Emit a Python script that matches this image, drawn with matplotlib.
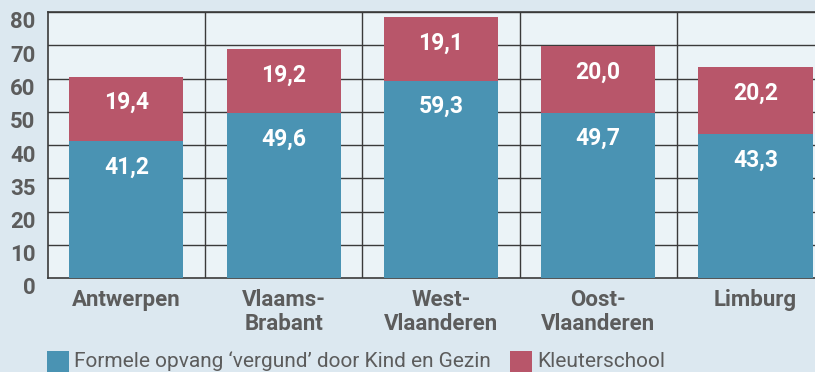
import matplotlib
matplotlib.use("Agg")
import matplotlib.pyplot as plt
import matplotlib.transforms as mtransforms
from matplotlib.patches import Rectangle

provinces = ["Antwerpen", "Vlaams-\nBrabant", "West-\nVlaanderen", "Oost-\nVlaanderen", "Limburg"]
formele_opvang = [41.2, 49.6, 59.3, 49.7, 43.3]
kleuterschool = [19.4, 19.2, 19.1, 20.0, 20.2]
y_ticks = [0, 10, 20, 30, 40, 50, 60, 70, 80]
y_tick_labels = ["0", "10", "20", "35", "40", "50", "60", "70", "80"]
legend_labels = ["Formele opvang \u2018vergund\u2019 door Kind en Gezin", "Kleuterschool"]

BLUE = "#4a93b3"
RED = "#b8566a"
FIG_BG = "#dce8f0"
AX_BG = "#ebf3f7"
GRID = "#3a3a3a"
TXT = "#5c5c5c"
BOLD_FONT = ["Roboto", "DejaVu Sans"]
LEG_FONT = ["Roboto", "DejaVu Sans"]

W, H = 815, 372
fig = plt.figure(figsize=(W / 100, H / 100), dpi=100, facecolor=FIG_BG)
ax = fig.add_axes([48 / W, 1 - 278 / H, 1 - 48 / W + 0.01, (278 - 12) / H])
ax.set_facecolor(AX_BG)

x = list(range(len(provinces)))
bar_w = 0.726
ax.bar(x, formele_opvang, width=bar_w, color=BLUE, zorder=3)
ax.bar(x, kleuterschool, width=bar_w, bottom=formele_opvang, color=RED, zorder=3)

# value labels sit a fixed distance below the top of each segment
for xi, b, k in zip(x, formele_opvang, kleuterschool):
    ax.text(xi, b - 7.8, f"{b:.1f}".replace(".", ","), ha="center", va="center",
            color="white", fontsize=16.5, fontweight="bold", family=BOLD_FONT, zorder=4)
    ax.text(xi, b + k - 7.8, f"{k:.1f}".replace(".", ","), ha="center", va="center",
            color="white", fontsize=16.5, fontweight="bold", family=BOLD_FONT, zorder=4)

ax.set_xlim(-0.498, 4.43)
ax.set_ylim(0, 80)

for yv in y_ticks[1:]:
    ax.axhline(yv, color=GRID, lw=1.0, zorder=1)
for xv in [0.5, 1.5, 2.5, 3.5]:
    ax.axvline(xv, color=GRID, lw=1.0, zorder=1)

ax.spines["right"].set_visible(False)
for side in ["left", "top", "bottom"]:
    ax.spines[side].set_color(GRID)
    ax.spines[side].set_linewidth(1.2)

ax.set_yticks(y_ticks)
ax.set_yticklabels(y_tick_labels, family=BOLD_FONT, fontweight="bold", fontsize=16, color=TXT)
ax.set_xticks(x)
ax.set_xticklabels(provinces, family=BOLD_FONT, fontweight="bold", fontsize=16, color=TXT,
                   linespacing=1.1)
ax.tick_params(axis="both", length=0)
ax.tick_params(axis="y", pad=9)
ax.tick_params(axis="x", pad=8)

# y labels sit slightly below their grid lines
shift = mtransforms.ScaledTranslation(0, -8 / 100, fig.dpi_scale_trans)
for lbl in ax.get_yticklabels():
    lbl.set_transform(lbl.get_transform() + shift)

# legend along the bottom edge
fig.patches.append(Rectangle((47 / W, 0), 22 / W, 21 / H, transform=fig.transFigure,
                             facecolor=BLUE, edgecolor="none"))
fig.text(74 / W, 5 / H, legend_labels[0], family=LEG_FONT, fontsize=15, color=TXT,
         va="baseline", ha="left")
fig.patches.append(Rectangle((510 / W, 0), 22 / W, 21 / H, transform=fig.transFigure,
                             facecolor=RED, edgecolor="none"))
fig.text(537 / W, 5 / H, legend_labels[1], family=LEG_FONT, fontsize=15, color=TXT,
         va="baseline", ha="left")

fig.savefig("out.png", dpi=100, facecolor=FIG_BG)
